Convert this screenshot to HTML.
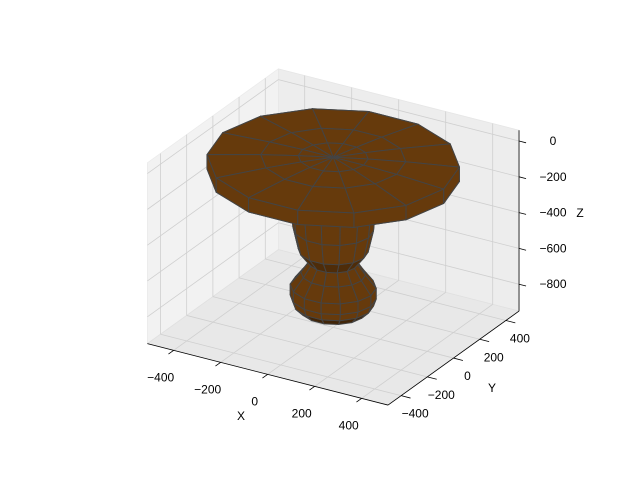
<!DOCTYPE html>
<html><head><meta charset="utf-8"><style>
html,body{margin:0;padding:0;background:#fff;}
svg{display:block;font-family:"Liberation Sans",sans-serif;}
</style></head><body>
<svg id="c" width="640" height="480" viewBox="0 0 640 480"></svg>
<script>
// ---- data ----
const profileZ = [0, 0, -5, -20, -100, -180, -250, -400, -520, -590, -650, -720, -780, -820, -860];
const profileR = [0, 130, 270, 470, 470, 300, 160, 150, 130, 90, 120, 160, 160, 150, 120];
const xTicks = [-400, -200, 0, 200, 400];
const yTicks = [-400, -200, 0, 200, 400];
const zTicks = [0, -200, -400, -600, -800];
const SEG = 14;

// ---- projection ----
const X0=-512, X1=512, Y0=-500, Y1=500, Z0=-950, Z1=60;
function P(x,y,z){return [333.2+0.235*x+0.131*y, 157.3+0.06*x-0.094*y-0.179*z];}
const NS='http://www.w3.org/2000/svg';
const svg=document.getElementById('c');
function el(t,a,parent){const e=document.createElementNS(NS,t);for(const k in a)e.setAttribute(k,a[k]);(parent||svg).appendChild(e);return e;}
function poly(pts,fill,stroke,sw,name){
  const e=el('polygon',{points:pts.map(p=>p.join(',')).join(' '),fill:fill,stroke:stroke||'none','stroke-width':sw||0,'stroke-linejoin':'round'});
  
  
  return e;
}
function line(a,b,col,w,name){
  const e=el('line',{x1:a[0],y1:a[1],x2:b[0],y2:b[1],stroke:col,'stroke-width':w});
  
  
  return e;
}
function text(x,y,s,anchor,name){
  const e=el('text',{x:x,y:y,'font-size':12,'text-anchor':anchor,fill:'#000'});
  e.textContent=s;
  
  
  return e;
}

// panes
poly([P(X0,Y0,Z0),P(X0,Y1,Z0),P(X0,Y1,Z1),P(X0,Y0,Z1)],'#f2f2f2','#ebebeb',0.8,'left-pane');
poly([P(X0,Y1,Z0),P(X1,Y1,Z0),P(X1,Y1,Z1),P(X0,Y1,Z1)],'#ededed','#e6e6e6',0.8,'back-pane');
poly([P(X0,Y0,Z0),P(X1,Y0,Z0),P(X1,Y1,Z0),P(X0,Y1,Z0)],'#e8e8e8','#e0e0e0',0.8,'floor-pane');

// grid
const g='#cfcfcf';
xTicks.forEach(x=>{line(P(x,Y0,Z0),P(x,Y1,Z0),g,0.8,'x-grid-floor');line(P(x,Y1,Z0),P(x,Y1,Z1),g,0.8,'x-grid-back');});
yTicks.forEach(y=>{line(P(X0,y,Z0),P(X1,y,Z0),g,0.8,'y-grid-floor');line(P(X0,y,Z0),P(X0,y,Z1),g,0.8,'y-grid-left');});
zTicks.forEach(z=>{line(P(X0,Y0,z),P(X0,Y1,z),g,0.8,'z-grid-left');line(P(X0,Y1,z),P(X1,Y1,z),g,0.8,'z-grid-back');});

// axes
line(P(X0,Y0,Z0),P(X1,Y0,Z0),'#000',0.8,'x-axis-line');
line(P(X1,Y0,Z0),P(X1,Y1,Z0),'#000',0.8,'y-axis-line');
line(P(X1,Y1,Z0),P(X1,Y1,Z1),'#000',0.8,'z-axis-line');
xTicks.forEach(x=>{const a=P(x,Y0,Z0),b=P(x,Y0-40,Z0);line(a,b,'#000',0.8,'x-tick');text(a[0]-13,a[1]+31,String(x).replace('-','−'),'middle','x-tick-label');});
yTicks.forEach(y=>{const a=P(X1,y,Z0),b=P(X1+40,y,Z0);line(a,b,'#000',0.8,'y-tick');text(a[0]+14,a[1]+22,String(y).replace('-','−'),'middle','y-tick-label');});
zTicks.forEach(z=>{const a=P(X1,Y1,z),b=P(X1+30,Y1,z);line(a,b,'#000',0.8,'z-tick');text(a[0]+34,a[1]+4,String(z).replace('-','−'),'middle','z-tick-label');});
text(241,420,'X','middle','x-axis-title');
text(492,392,'Y','middle','y-axis-title');
text(580,217,'Z','middle','z-axis-title');

// surface of revolution
const eye=[0.433,-0.75,0.5];
const faces=[];
for(let i=0;i<profileZ.length-1;i++){
  for(let j=0;j<SEG;j++){
    const a0=2*Math.PI*j/SEG, a1=2*Math.PI*(j+1)/SEG;
    const pts3=[
      [profileR[i]*Math.cos(a0),profileR[i]*Math.sin(a0),profileZ[i]],
      [profileR[i]*Math.cos(a1),profileR[i]*Math.sin(a1),profileZ[i]],
      [profileR[i+1]*Math.cos(a1),profileR[i+1]*Math.sin(a1),profileZ[i+1]],
      [profileR[i+1]*Math.cos(a0),profileR[i+1]*Math.sin(a0),profileZ[i+1]]];
    const c=[0,0,0];pts3.forEach(p=>{c[0]+=p[0]/4;c[1]+=p[1]/4;c[2]+=p[2]/4;});
    const am=(a0+a1)/2, dr=profileR[i+1]-profileR[i], dz=profileZ[i+1]-profileZ[i];
    let n=[-dz*Math.cos(am),-dz*Math.sin(am),dr];
    const L=Math.hypot(n[0],n[1],n[2])||1; n=n.map(v=>v/L);
    if(i<2){n=[0,0,1];}
    const depth=c[0]*eye[0]+c[1]*eye[1]+c[2]*eye[2];
    faces.push({pts3,n,depth});
  }
}
faces.sort((a,b)=>a.depth-b.depth);
faces.forEach(f=>{
  const nz=f.n[2];
  const k=nz>=-0.3?1:Math.max(0.15,1+(nz+0.3)*1.2);
  const col='rgb('+Math.round(102*k)+','+Math.round(58*k)+','+Math.round(12*k)+')';
  poly(f.pts3.map(p=>P(p[0],p[1],p[2])),col,'#444',1,'surface-face');
});
</script>
</body></html>
